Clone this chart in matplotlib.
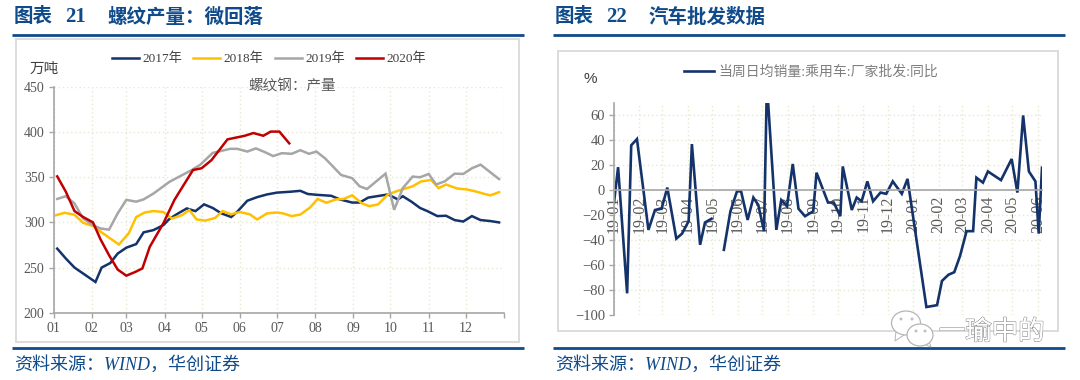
import numpy as np
import matplotlib
matplotlib.use("Agg")
import matplotlib.pyplot as plt
from matplotlib.lines import Line2D
from matplotlib.patches import Rectangle, Ellipse, Polygon
import matplotlib.patheffects as pe

W, H = 1080, 380
CJK = 'Noto Sans CJK SC'
SERIF = ['Liberation Serif', CJK]
plt.rcParams['font.family'] = SERIF

# ---------- left chart data: day of year, value ----------
month_labels = ['01','02','03','04','05','06','07','08','09','10','11','12']
month_days = [0,31,59,90,120,151,181,212,243,273,304,334]

d2017 = [3,10,17,34,39,46,52,59,67,73,81,89,94,101,108,115,122,129,136,144,149,157,165,173,181,192,200,206,214,225,232,242,248,255,271,279,283,290,297,303,311,318,325,332,339,346,354,361]
v2017 = [271,260,250,234,250,255,265.5,272,276,289,291.5,297,304,310,315.5,312.5,320,316,310,306,312,324,328,331,333,334,335,331.5,330.5,329.5,325.5,322,322,327.5,331,325.5,329,323,316,312.5,307,307.4,302.6,301,307,302.6,301.5,300]

d2018 = [2,9,17,24,32,39,53,61,67,74,81,89,96,104,110,116,123,131,137,144,151,159,165,173,181,186,193,200,208,214,221,229,235,242,250,256,263,271,279,291,298,306,312,318,327,335,341,348,354,361]
v2018 = [308,310.7,308.5,299.6,296,289,275.5,288,306,311,312.6,311.5,304.4,308,313.7,303.3,302,305,312.6,309,311.5,309,303.3,310,311,310,307,308.7,316.7,326,321.8,325.5,326,330,321,318,320,331,335,340,345.5,347,338,342,337.6,336.5,334.7,332,330,333.5]

d2019 = [3,10,17,24,32,38,45,52,59,67,73,81,94,112,119,129,143,149,157,164,171,178,185,193,200,207,213,220,233,242,248,254,269,276,283,291,297,304,310,317,325,332,339,346,361]
v2019 = [326,329,321,304.4,297,293.3,292,310,325,323,325.5,332,345,358,364,377,381.5,381.5,378.5,382,378,373.5,376.7,376,380,376,378.5,371,352.6,349,340,337,354,314,338,350.8,350,353.7,342,345.5,354,353.7,360,364,348]

d2020 = [3,10,17,24,32,38,45,52,59,66,72,78,89,98,113,120,128,141,155,162,170,176,183,191]
v2020 = [351,334,312.6,306,300,281.5,263.7,247.8,241,245,249,273,299,325,358,360,369,392,396,399,396,400.6,400.6,387.6]

series_names = ['2017年','2018年','2019年','2020年']

# ---------- right chart data: days since 2019-01-01, value ----------
auto_days = [0,5,16,21,28,42,50,58,65,76,83,91,95,105,111,119,127,134,142,150,155,163,170,176,183,186,188,198,204,211,218,225,233,243,247,261,268,276,279,290,296,302,309,316,325,332,340,351,358,381,394,400,408,415,422,430,438,442,450,456,472,485,492,499,506,514,518,522]
auto_vals = [-10,18.4,-83,36,41,-32,-16,-15,2,-39,-35,-25,37,-44,-26,-23,None,-48,-17,-1,-1,-24,-6,-12,-33,70,70,-32,-8,-13,21,-15,-21,-17,14,-10,-10,-21,19,-16,-6,-9,7,-9,-2,-3,7,-3,9,-94,-92.5,-73,-68,-66,-53,-33,-33,10,6,15,8,25,-2,60,15,7,-35,18]
auto_month_labels = ['19-01','19-02','19-03','19-04','19-05','19-06','19-07','19-08','19-09','19-10','19-11','19-12','20-01','20-02','20-03','20-04','20-05','20-06']
auto_month_days = [0,31,59,90,120,151,181,212,243,273,304,334,365,396,425,456,486,517]

NAVY, YEL, GRY, RED = '#14336b', '#ffc000', '#a6a6a6', '#c00000'
BLUE = '#0f4a8a'; TXT = '#595959'; AX = '#a6a6a6'; GRID = '#e8e7cf'

fig = plt.figure(figsize=(W/100, H/100), dpi=100)

def fx(x): return x / W
def fy(y): return 1 - y / H
def add_ax(x0, x1, y0, y1):
    return fig.add_axes([fx(x0), fy(y1), fx(x1 - x0), (y1 - y0) / H])

# frames and rules
for x0, x1, y0, y1 in [(15.7, 519, 39.3, 341.5), (558.3, 1058, 50.7, 331)]:
    fig.add_artist(Rectangle((fx(x0), fy(y1)), fx(x1 - x0), (y1 - y0) / H, transform=fig.transFigure,
                             fc='white', ec='#dcdcdc', lw=1.4, zorder=-5))
for x0, x1 in [(11.5, 524), (552.7, 1065)]:
    for y in (34.7, 348.3):
        fig.add_artist(Line2D([fx(x0), fx(x1)], [fy(y)] * 2, color=BLUE, lw=2.0, solid_capstyle='butt'))

# headings and sources
def txt(x, y, s, **k):
    k.setdefault('va', 'center')
    fig.text(fx(x), fy(y), s, **k)

for x, num, numx, title, tx in [(14, '21', 65, '螺纹产量：微回落', 107), (555, '22', 606, '汽车批发数据', 649)]:
    txt(x, 17, '图表', color=BLUE, fontsize=14, fontweight='bold', family=SERIF)
    txt(numx, 17, num, color=BLUE, fontsize=15, fontweight='bold', family=SERIF)
    txt(tx, 17, title, color=BLUE, fontsize=14, fontweight='bold', family=SERIF)
for x in (14, 555):
    txt(x, 365, '资料来源：WIND，华创证券', color=BLUE, fontsize=13, style='italic', family=SERIF)

def style(ax, size):
    ax.patch.set_alpha(0)
    for s in ('top', 'right'):
        ax.spines[s].set_visible(False)
    for s in ('left', 'bottom'):
        ax.spines[s].set_color(AX)
        ax.spines[s].set_linewidth(1.2)
    ax.grid(True, color=GRID, ls=(0, (1, 2)), lw=1.0)
    ax.set_axisbelow(True)
    ax.tick_params(colors=TXT, labelsize=size, color=AX, length=3.5, width=1.0, pad=3)

# left chart
a = add_ax(53.5, 504, 87, 312.7)
style(a, 10)
lines = []
for d, v, c, n in [(d2017, v2017, NAVY, series_names[0]), (d2018, v2018, YEL, series_names[1]),
                   (d2019, v2019, GRY, series_names[2]), (d2020, v2020, RED, series_names[3])]:
    lines += a.plot(d, v, color=c, lw=1.8, label=n, solid_joinstyle='miter')
a.set_xlim(0, 365); a.set_ylim(200, 450)
a.set_yticks(range(200, 451, 50))
a.set_xticks(month_days + [365]); a.set_xticklabels(month_labels + [''])
fig.legend(handles=lines, loc='center', bbox_to_anchor=(fx(269), fy(59)), ncol=4, frameon=False,
           fontsize=9.5, handlelength=2.05, handletextpad=0.25, columnspacing=0.85, labelcolor='#404040')
txt(30, 69, '万吨', color='#404040', fontsize=10.5, family=[CJK])
txt(248, 86, '螺纹钢：产量', color=TXT, fontsize=10.5, family=[CJK])

# right chart
b = add_ax(614, 1042, 103, 314.5)
style(b, 10.5)
b.spines['bottom'].set_position(('data', 0))
yv = np.array(auto_vals, dtype=float)
ln, = b.plot(auto_days, yv, color=NAVY, lw=1.9, label='当周日均销量:乘用车:厂家批发:同比', solid_joinstyle='miter')
b.set_xlim(0, 522); b.set_ylim(-100, 70)
b.set_yticks(range(-100, 61, 20))
b.set_xticks(auto_month_days); b.set_xticklabels(auto_month_labels, rotation=90, fontsize=11.5)
b.tick_params(axis='x', length=0, pad=4)
fig.legend(handles=[ln], loc='center', bbox_to_anchor=(fx(811), fy(72)), frameon=False, fontsize=10,
           handlelength=2.2, handletextpad=0.3, labelcolor='#7f7f7f')
txt(584, 79, '%', color='#404040', fontsize=11, family=['Liberation Sans'])

# watermark
def bubble(cx, cy, rx, ry, tail):
    fig.add_artist(Polygon([(fx(px), fy(py)) for px, py in tail], transform=fig.transFigure, fc='white', ec='#b5b5b5', lw=0.7, zorder=5))
    fig.add_artist(Ellipse((fx(cx), fy(cy)), rx * 2 / W, ry * 2 / H, transform=fig.transFigure, fc='white', ec='#b5b5b5', lw=0.9, zorder=5))
bubble(906, 323, 14.5, 12, [(896, 331), (895, 341), (904, 335)])
bubble(920, 335, 13, 11, [(924, 344), (931, 347), (929, 341)])
for px, py in [(901, 319), (912, 319), (916, 331), (925, 331)]:
    fig.add_artist(Ellipse((fx(px), fy(py)), 3 / W, 3 / H, transform=fig.transFigure, fc='#c0c0c0', ec='none', zorder=6))
t = fig.text(fx(939), fy(332), '一瑜中的', fontsize=19, color='white', va='center', family=[CJK], zorder=6)
t.set_path_effects([pe.withStroke(linewidth=1.0, foreground='#8f8f8f'), pe.Normal()])

fig.savefig('out.png', dpi=100, facecolor='white')
